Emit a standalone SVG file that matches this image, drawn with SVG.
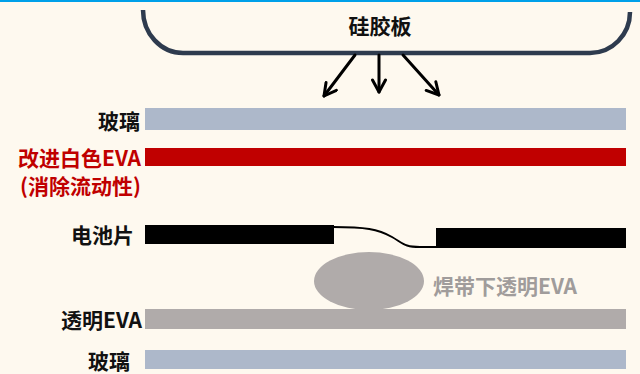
<svg xmlns="http://www.w3.org/2000/svg" width="640" height="374" viewBox="0 0 640 374">
<defs>
<style>
.lbl{font-family:"Noto Sans CJK SC","Liberation Sans",sans-serif;font-weight:bold;font-size:21px;text-anchor:end;dominant-baseline:central;fill:#111}
.arr{stroke:#000;stroke-width:3;fill:none;stroke-linecap:round}
</style>
<marker id="ah" viewBox="0 0 16 16" refX="14" refY="8" markerWidth="16" markerHeight="16" markerUnits="userSpaceOnUse" orient="auto">
<path d="M2,1.5 L14,8 L2,14.5" fill="none" stroke="#000" stroke-width="3" stroke-linecap="round" stroke-linejoin="round"/>
</marker>
</defs>
<rect x="0" y="0" width="640" height="374" fill="#fef9ef"/>
<rect x="0" y="0" width="640" height="2" fill="#00a0e9"/>
<g id="silicone">
<path d="M143,10 A40,43 0 0 0 183,53 L590,53 A40,41 0 0 0 630,12" fill="none" stroke="#2e3b4e" stroke-width="4.5"/>
<text x="380" y="25" class="lbl" style="text-anchor:middle">硅胶板</text>
</g>
<g id="connectors">
<line x1="355" y1="55" x2="324" y2="96" class="arr" marker-end="url(#ah)"/>
<line x1="379" y1="55" x2="379" y2="92" class="arr" marker-end="url(#ah)"/>
<line x1="403" y1="55" x2="439" y2="95" class="arr" marker-end="url(#ah)"/>
</g>
<g id="glass-top">
<rect x="145" y="108" width="481" height="22" fill="#adb8ca"/>
<text x="140" y="120" class="lbl">玻璃</text>
</g>
<g id="white-eva">
<rect x="145" y="148" width="481" height="18" fill="#c00000"/>
<text x="141" y="157" class="lbl" style="fill:#c00000">改进白色EVA</text>
<text x="141" y="185" class="lbl" style="fill:#c00000">(消除流动性)</text>
</g>
<g id="cell">
<rect x="145" y="225" width="189" height="19" fill="#000"/>
<rect x="436" y="228" width="190" height="20" fill="#000"/>
<path d="M333,227 C365,227 378,229 392,237 C404,244 405,247 420,247 L437,247" fill="none" stroke="#000" stroke-width="2"/>
<text x="134" y="234" class="lbl">电池片</text>
</g>
<g id="ribbon-eva">
<ellipse cx="369" cy="281" rx="55" ry="29" fill="#b0abaa"/>
<text x="433" y="285" class="lbl" style="text-anchor:start;fill:#a09c9b">焊带下透明EVA</text>
</g>
<g id="clear-eva">
<rect x="145" y="309" width="481" height="20" fill="#b0abaa"/>
<text x="142" y="319" class="lbl">透明EVA</text>
</g>
<g id="glass-bottom">
<rect x="145" y="350" width="481" height="19" fill="#adb8ca"/>
<text x="130" y="360" class="lbl">玻璃</text>
</g>
</svg>
